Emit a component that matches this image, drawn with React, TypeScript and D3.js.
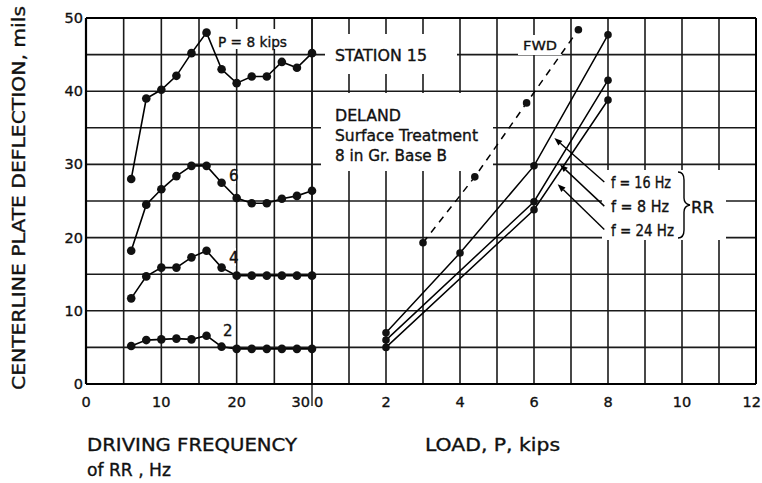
import React from "react";
import * as d3 from "d3";

// ---- data ----
const freqHz = [6, 8, 10, 12, 14, 16, 18, 20, 22, 24, 26, 28, 30];
const defP8 = [28, 39, 40.2, 42.1, 45.2, 48, 43, 41.1, 42, 42, 44, 43.2, 45.2];
const defP6 = [18.2, 24.5, 26.6, 28.4, 29.8, 29.8, 27.5, 25.4, 24.7, 24.7, 25.3, 25.7, 26.4];
const defP4 = [11.7, 14.7, 15.9, 15.9, 17.3, 18.2, 15.9, 14.8, 14.8, 14.8, 14.8, 14.8, 14.8];
const defP2 = [5.2, 6.0, 6.1, 6.2, 6.1, 6.6, 5.1, 4.8, 4.8, 4.8, 4.8, 4.8, 4.8];

const fwdLoad = [3, 4.4, 5.8, 7.2];
const fwdDefl = [19.3, 28.3, 38.4, 48.4];
const rr16Load = [2, 4, 6, 8];
const rr16Defl = [7, 17.9, 29.8, 47.7];
const rr8Load = [2, 6, 8];
const rr8Defl = [6, 24.9, 41.5];
const rr24Load = [2, 6, 8];
const rr24Defl = [5, 23.8, 38.8];

const yTicks = [0, 10, 20, 30, 40, 50];
const freqTicks = [0, 10, 20, 30];
const loadTicks = [0, 2, 4, 6, 8, 10, 12];

const FONT = "'DejaVu Sans', 'Liberation Sans', sans-serif";

export default function App() {
  const W = 762, H = 483;
  const xF = d3.scaleLinear().domain([0, 30]).range([86, 312]);
  const xL = d3.scaleLinear().domain([0, 12]).range([312, 756]);
  const y = d3.scaleLinear().domain([0, 50]).range([384, 18]);

  const lineF = d3.line<[number, number]>().x(d => xF(d[0])).y(d => y(d[1]));
  const lineL = d3.line<[number, number]>().x(d => xL(d[0])).y(d => y(d[1]));

  const leftSeries = [defP8, defP6, defP4, defP2].map(s => freqHz.map((f, i) => [f, s[i]] as [number, number]));
  const rrSeries = [
    rr16Load.map((l, i) => [l, rr16Defl[i]] as [number, number]),
    rr8Load.map((l, i) => [l, rr8Defl[i]] as [number, number]),
    rr24Load.map((l, i) => [l, rr24Defl[i]] as [number, number]),
  ];
  const fwd = fwdLoad.map((l, i) => [l, fwdDefl[i]] as [number, number]);

  const hGrid = d3.range(0, 51, 5);
  const vGridF = d3.range(0, 31, 5);
  const vGridL = d3.range(0, 13, 1);

  const gridStroke = "#1a1a1a";

  // white boxes behind annotations (pixel rects)
  const boxes = [
    [214, 29, 78, 20],
    [325, 34, 132, 40],
    [321, 93, 172, 78],
    [518, 35, 44, 20],
    [602, 170, 124, 70],
    [222, 166, 14, 18],
    [222, 248, 14, 18],
    [216, 321, 14, 18],
  ];

  // arrows: [fromLoad, fromDefl, tipLoad, tipDefl]
  const arrows = [
    [7.9, 27.6, 6.55, 33.6],
    [7.9, 24.3, 6.7, 30.0],
    [7.9, 21.1, 6.64, 27.3],
  ];

  const txt = (x: number, yy: number, s: string, size = 14, anchor = "start", len?: number) => (
    <text x={x} y={yy} fontSize={size} textAnchor={anchor} fontFamily={FONT} fill="#111"
      stroke="#111" strokeWidth={0.35}
      {...(len ? { textLength: len, lengthAdjust: "spacingAndGlyphs" } : {})}>{s}</text>
  );

  return (
    <svg width={W} height={H} style={{ position: "absolute", left: 0, top: 0, background: "#fff" }}>
      <rect width={W} height={H} fill="#fff" />
      {/* grid */}
      {hGrid.map(v => (
        <line key={"h" + v} x1={xF(0)} x2={xL(12)} y1={y(v)} y2={y(v)} stroke={gridStroke} strokeWidth={1.6} />
      ))}
      {vGridF.map(v => (
        <line key={"vf" + v} x1={xF(v)} x2={xF(v)} y1={y(0)} y2={y(50)} stroke={gridStroke} strokeWidth={1.6} />
      ))}
      {vGridL.map(v => (
        <line key={"vl" + v} x1={xL(v)} x2={xL(v)} y1={y(0)} y2={y(50)} stroke={gridStroke} strokeWidth={1.6} />
      ))}
      <line x1={xL(0)} x2={xL(0)} y1={y(0)} y2={y(0) + 22} stroke={gridStroke} strokeWidth={1.4} />
      <line x1={xF(0)} x2={xL(12)} y1={y(0)} y2={y(0)} stroke="#000" strokeWidth={2.2} />
      <line x1={xF(0)} x2={xF(0)} y1={y(0)} y2={y(50)} stroke="#000" strokeWidth={2.2} />
      <line x1={xL(12)} x2={xL(12)} y1={y(0)} y2={y(50)} stroke="#000" strokeWidth={2} />
      <line x1={xF(0)} x2={xL(12)} y1={y(50)} y2={y(50)} stroke="#000" strokeWidth={2} />

      {/* annotation boxes */}
      {boxes.map((b, i) => <rect key={"b" + i} x={b[0]} y={b[1]} width={b[2]} height={b[3]} fill="#fff" />)}

      {/* left panel series */}
      {leftSeries.map((s, i) => (
        <g key={"ls" + i}>
          <path d={lineF(s) || ""} fill="none" stroke="#000" strokeWidth={1.6} />
          {s.map((p, j) => <circle key={j} cx={xF(p[0])} cy={y(p[1])} r={4.3} fill="#111" />)}
        </g>
      ))}

      {/* right panel */}
      <path d={lineL(fwd) || ""} fill="none" stroke="#000" strokeWidth={1.5} strokeDasharray="7,6" />
      {fwd.map((p, j) => <circle key={"fw" + j} cx={xL(p[0])} cy={y(p[1])} r={3.8} fill="#111" />)}
      {rrSeries.map((s, i) => (
        <g key={"rr" + i}>
          <path d={lineL(s) || ""} fill="none" stroke="#000" strokeWidth={1.5} />
          {s.map((p, j) => <circle key={j} cx={xL(p[0])} cy={y(p[1])} r={3.8} fill="#111" />)}
        </g>
      ))}

      {/* arrows */}
      {arrows.map((a, i) => {
        const x1 = xL(a[0]), y1 = y(a[1]), x2 = xL(a[2]), y2 = y(a[3]);
        const ang = Math.atan2(y2 - y1, x2 - x1);
        const L = 8, Wd = 3;
        const bx = x2 - L * Math.cos(ang), by = y2 - L * Math.sin(ang);
        const px = -Math.sin(ang) * Wd, py = Math.cos(ang) * Wd;
        return (
          <g key={"ar" + i}>
            <line x1={x1} y1={y1} x2={bx} y2={by} stroke="#000" strokeWidth={1.4} />
            <path d={`M${x2},${y2}L${bx + px},${by + py}L${bx - px},${by - py}Z`} fill="#000" />
          </g>
        );
      })}

      {/* y tick labels */}
      {yTicks.map(v => (
        <text key={"yt" + v} x={83} y={y(v) + 5} fontSize={14.5} textAnchor="end" fontFamily={FONT}
          fill="#111" stroke="#111" strokeWidth={0.35}>{v}</text>
      ))}
      {/* x tick labels */}
      {freqTicks.map(v => (
        <text key={"xf" + v} x={v === 30 ? xF(v) - 2 : xF(v)} y={407} fontSize={14.5}
          textAnchor={v === 30 ? "end" : "middle"} fontFamily={FONT} fill="#111" stroke="#111" strokeWidth={0.35}>{v}</text>
      ))}
      {loadTicks.map(v => (
        <text key={"xl" + v} x={v === 0 ? xL(v) + 2 : v === 12 ? W - 1 : xL(v)} y={407} fontSize={14.5}
          textAnchor={v === 0 ? "start" : v === 12 ? "end" : "middle"} fontFamily={FONT} fill="#111"
          stroke="#111" strokeWidth={0.35}>{v}</text>
      ))}

      {/* annotations */}
      {txt(218, 47, "P = 8 kips", 14, "start", 69)}
      {txt(229, 181, "6", 15)}
      {txt(229, 263, "4", 15)}
      {txt(223, 336, "2", 15)}
      {txt(335, 61, "STATION 15", 15, "start", 92)}
      {txt(335, 121, "DELAND", 15, "start", 66)}
      {txt(335, 141, "Surface Treatment", 15, "start", 143)}
      {txt(335, 161, "8 in Gr. Base B", 15, "start", 112)}
      {txt(523, 50, "FWD", 13, "start", 34)}
      {txt(611, 188, "f = 16 Hz", 15, "start", 60)}
      {txt(611, 212, "f = 8  Hz", 15, "start", 58)}
      {txt(611, 236, "f = 24 Hz", 15, "start", 63)}
      {txt(691, 213, "RR", 16, "start", 23)}
      <path d="M678,172 Q684,172 684,180 L684,198 Q684,204 690,205 Q684,206 684,212 L684,230 Q684,238 678,238"
        fill="none" stroke="#000" strokeWidth={1.4} />

      {/* axis titles */}
      {txt(87, 451, "DRIVING FREQUENCY", 17, "start", 210)}
      {txt(87, 476, "of RR , Hz", 17, "start", 84)}
      {txt(425, 451, "LOAD, P, kips", 17, "start", 135)}
      <text transform="translate(25,198) rotate(-90)" fontSize={17} textAnchor="middle" fontFamily={FONT}
        fill="#111" stroke="#111" strokeWidth={0.35} textLength={384} lengthAdjust="spacingAndGlyphs">CENTERLINE PLATE DEFLECTION, mils</text>
    </svg>
  );
}
